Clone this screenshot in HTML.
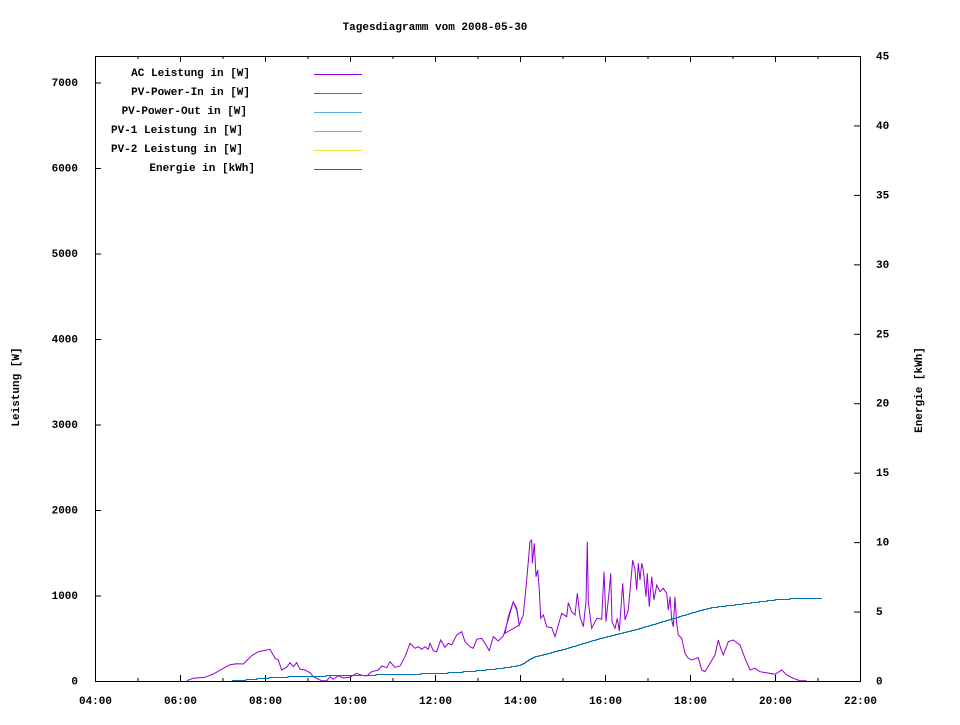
<!DOCTYPE html>
<html><head><meta charset="utf-8"><style>
body{margin:0;background:#fff}
svg text{font-family:"Liberation Mono","DejaVu Sans Mono",monospace;font-size:11px;font-weight:bold;fill:#000}
</style></head><body>
<svg id="s" width="960" height="720" xmlns="http://www.w3.org/2000/svg">
<rect x="0" y="0" width="960" height="720" fill="#fff"/>
<text x="435" y="30" text-anchor="middle">Tagesdiagramm vom 2008-05-30</text>
<rect x="95.5" y="56.5" width="765" height="625" fill="none" stroke="#000" stroke-width="1"/>
<g id="ticks" stroke="#000" stroke-width="1"></g>
<g id="labels"></g>
<text transform="translate(19,387) rotate(-90)" text-anchor="middle">Leistung [W]</text>
<text transform="translate(922,390) rotate(-90)" text-anchor="middle">Energie [kWh]</text>
<g text-anchor="end">
<text x="250" y="76">AC Leistung in [W]</text>
<text x="250" y="95">PV-Power-In in [W]</text>
<text x="247" y="114">PV-Power-Out in [W]</text>
<text x="243" y="133">PV-1 Leistung in [W]</text>
<text x="243" y="152">PV-2 Leistung in [W]</text>
<text x="255" y="171">Energie in [kWh]</text>
</g>
<g stroke-width="1">
<line x1="314" y1="74.5" x2="362" y2="74.5" stroke="#9400d3"/>
<line x1="314" y1="93.5" x2="362" y2="93.5" stroke="#009e73"/>
<line x1="314" y1="112.5" x2="362" y2="112.5" stroke="#56b4e9"/>
<line x1="314" y1="131.5" x2="362" y2="131.5" stroke="#e69f00"/>
<line x1="314" y1="150.5" x2="362" y2="150.5" stroke="#f0e442"/>
<line x1="314" y1="169.5" x2="362" y2="169.5" stroke="#0072b2"/>
</g>
<polyline id="ac" fill="none" stroke="#9400d3" stroke-width="1"/>
<polyline id="en" fill="none" stroke="#0072b2" stroke-width="1"/>
</svg>
<script>
var ns="http://www.w3.org/2000/svg";
var T=document.getElementById('ticks'),L=document.getElementById('labels');
function ln(x1,y1,x2,y2){var l=document.createElementNS(ns,'line');l.setAttribute('x1',x1);l.setAttribute('y1',y1);l.setAttribute('x2',x2);l.setAttribute('y2',y2);T.appendChild(l);}
function tx(x,y,s,a){var t=document.createElementNS(ns,'text');t.setAttribute('x',x);t.setAttribute('y',y);t.setAttribute('text-anchor',a);t.textContent=s;L.appendChild(t);}
for(var h=0;h<=18;h++){var x=95.5+h*42.5;var big=h%2==0;var len=big?6:3;ln(x,681,x,681-len);ln(x,56,x,56+len);
 if(big){var hh=4+h;tx(x,704,(hh<10?'0':'')+hh+':00','middle');}}
for(var v=0;v<=7000;v+=1000){var y=681.5-v*0.0855;ln(95,y,101,y);tx(78,y+3,String(v),'end');}
for(var e=0;e<=45;e+=5){var y=681.5-e*625/45;ln(860,y,854,y);tx(876,y+3,String(e),'start');}
var z1=[[50,452],[70,445],[105,442],[130,432],[160,415],[180,404],[200,401],[220,402],[245,377],[265,365],[300,358],[315,385],[325,390],[335,420],[350,412],[360,398],[370,410],[380,398],[390,418],[405,420],[420,428],[430,440],[455,452],[470,452],[480,440],[490,448],[505,437],[520,444],[540,442],[560,430],[575,436],[590,438],[605,425],[625,420],[635,408],[650,413],[660,395],[675,412],[690,408],[705,380],[720,340],[735,355],[745,350],[755,358],[765,350],[775,358],[780,340],[790,362],[800,365],[812,330],[825,352],[835,340],[845,345],[860,315],[875,305],[885,335],[900,350],[910,355],[920,328],[935,325],[945,340],[958,362],[970,320],[985,333],[1000,318],[1010,285],[1020,250],[1030,215],[1040,235],[1048,285]];
var z2=[[15,310],[25,260],[40,215],[50,240],[58,285],[70,255],[80,150],[90,35],[95,30],[97,100],[103,40],[108,140],[113,120],[118,180],[122,265],[130,255],[140,290],[155,293],[165,320],[185,250],[200,260],[205,218],[215,245],[225,255],[232,190],[240,260],[250,290],[258,215],[262,35],[265,215],[275,295],[290,265],[305,268],[312,125],[318,275],[328,180],[332,130],[336,275],[345,295],[352,265],[358,303],[368,160],[375,270],[385,240],[398,90],[405,120],[410,180],[415,100],[420,150],[425,100],[430,120],[438,200],[442,130],[448,230],[455,140],[462,210],[470,165],[480,185],[490,175],[500,190],[505,240],[510,200],[515,270],[520,290],[525,200],[530,280],[535,315],[545,325],[555,370],[565,385],[575,390],[595,383],[605,420],[615,425],[630,400],[645,375],[655,330],[662,355],[670,375],[685,335],[700,330],[720,345],[735,385],[750,420],[765,415],[780,425],[825,433],[845,420],[860,435],[880,445],[900,452],[920,452]];
var pts=z1.map(function(p){return (170+p[0]/3).toFixed(1)+','+(530+p[1]/3).toFixed(1)}).concat(z2.map(function(p){return (500+p[0]/3).toFixed(1)+','+(530+p[1]/3).toFixed(1)}));
document.getElementById('ac').setAttribute('points',pts.join(' '));
var ek=[[232,681],[250,679],[275,677],[300,676],[350,675],[400,674],[440,673],[470,671],[500,668],[520,665],[533,657],[567,648],[600,638],[633,630],[667,620],[700,610],[713,607],[747,603],[778,599],[800,598],[822,598]];
var ep=[];function f(x){if(x<=232)return 681;for(var i=0;i<ek.length-1;i++){if(x<=ek[i+1][0]){var a=ek[i],b=ek[i+1];return a[1]+(b[1]-a[1])*(x-a[0])/(b[0]-a[0]);}}return 598;}
var py=680.5;ep.push('232,680.5');
for(var x=233;x<=822;x+=1){var y=Math.min(680.5,Math.round(f(x))+0.5);if(y!=py){ep.push(x+','+py);ep.push(x+','+y);py=y;}}
ep.push('822,'+py);
document.getElementById('en').setAttribute('points',ep.join(' '));
</script>
</body></html>
